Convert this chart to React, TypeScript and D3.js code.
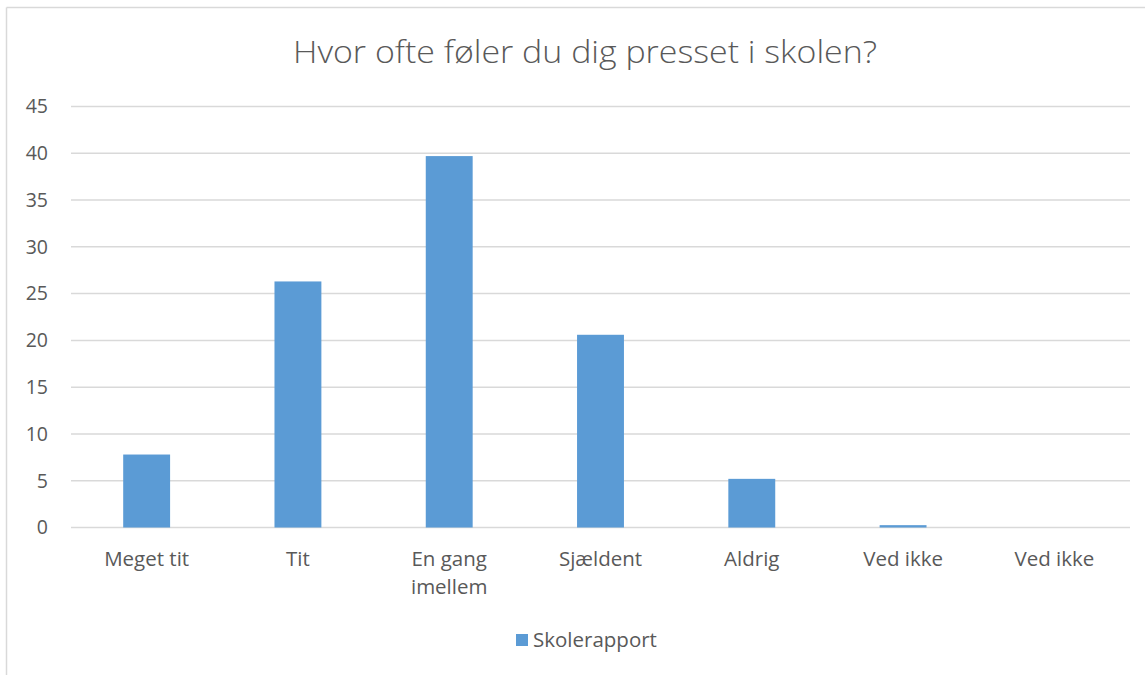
import React from "react";
import * as d3 from "d3";

const categories = ["Meget tit", "Tit", "En gang imellem", "Sjældent", "Aldrig", "Ved ikke", "Ved ikke "];
const categoryLines = [["Meget tit"], ["Tit"], ["En gang", "imellem"], ["Sjældent"], ["Aldrig"], ["Ved ikke"], ["Ved ikke"]];
const values = [7.8, 26.3, 39.7, 20.6, 5.2, 0.25, 0];
const yTicks = [0, 5, 10, 15, 20, 25, 30, 35, 40, 45];
const title = "Hvor ofte føler du dig presset i skolen?";
const seriesName = "Skolerapport";

const W = 1145;
const H = 675;
const FONT = "'Open Sans', Lato, sans-serif";
const TEXT = "#595959";
const BAR = "#5b9bd5";
const GRID = "#d9d9d9";

export default function App() {
  const x = d3.scaleBand<string>().domain(categories).range([71, 1130]).paddingInner(0.69).paddingOuter(0.345);
  const y = d3.scaleLinear().domain([0, 45]).range([527.5, 106.5]);
  const band = d3.scaleBand<string>().domain(categories).range([71, 1130]);

  return (
    <svg width={W} height={H} style={{ position: "absolute", left: 0, top: 0, background: "#fff" }} fontFamily={FONT}>
      <rect x={0} y={0} width={W} height={H} fill="#fff" />
      <line x1={6.5} y1={7.5} x2={W} y2={7.5} stroke={GRID} strokeWidth={1.5} />
      <line x1={6.5} y1={7.5} x2={6.5} y2={H} stroke={GRID} strokeWidth={1.5} />
      <text x={585} y={63} textAnchor="middle" fontSize={31} fontWeight={300} fill={TEXT} textLength={584} lengthAdjust="spacingAndGlyphs">{title}</text>
      {yTicks.map((t) => (
        <g key={t}>
          <line x1={71} x2={1130} y1={y(t)} y2={y(t)} stroke={GRID} strokeWidth={1.5} />
          <text x={48} y={y(t)} dy="0.35em" textAnchor="end" fontSize={19.5} fill={TEXT}>{t}</text>
        </g>
      ))}
      {categories.map((c, i) => (
        <rect key={c} x={x(c)} y={y(values[i])} width={x.bandwidth()} height={y(0) - y(values[i])} fill={BAR} />
      ))}
      {categories.map((c, i) => (
        <text key={c} x={(band(c) as number) + band.bandwidth() / 2} y={566} textAnchor="middle" fontSize={20.5} fill={TEXT}>
          {categoryLines[i].map((l, j) => (
            <tspan key={j} x={(band(c) as number) + band.bandwidth() / 2} dy={j === 0 ? 0 : 28}>{l}</tspan>
          ))}
        </text>
      ))}
      <rect x={516} y={634} width={12} height={12} fill={BAR} />
      <text x={533} y={640} dy="0.35em" fontSize={20.5} fill={TEXT}>{seriesName}</text>
    </svg>
  );
}
